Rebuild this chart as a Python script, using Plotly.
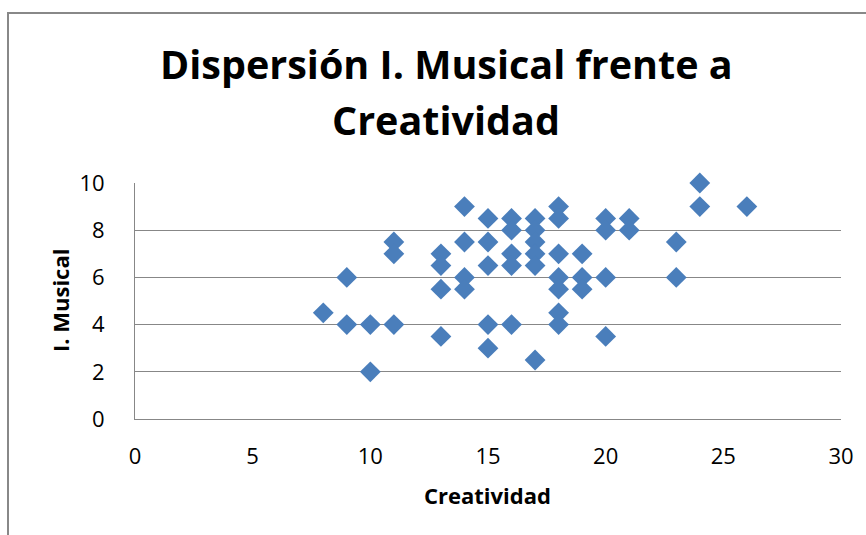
import plotly.graph_objects as go

creatividad = [8, 9, 9, 10, 10, 11, 11, 11,
               13, 13, 13, 13, 14, 14, 14, 14,
               15, 15, 15, 15, 15, 16, 16, 16, 16, 16,
               17, 17, 17, 17, 17, 17,
               18, 18, 18, 18, 18, 18, 18,
               19, 19, 19, 20, 20, 20, 20,
               21, 21, 23, 23, 24, 24, 26]
musical = [4.5, 6, 4, 4, 2, 7.5, 7, 4,
           7, 6.5, 5.5, 3.5, 9, 7.5, 6, 5.5,
           8.5, 7.5, 6.5, 4, 3, 8.5, 8, 7, 6.5, 4,
           8.5, 8, 7.5, 7, 6.5, 2.5,
           9, 8.5, 7, 6, 5.5, 4.5, 4,
           7, 6, 5.5, 8.5, 8, 6, 3.5,
           8.5, 8, 7.5, 6, 10, 9, 9]

x_ticks = [0, 5, 10, 15, 20, 25, 30]
y_ticks = [0, 2, 4, 6, 8, 10]

title_lines = ["Dispersión I. Musical frente a", "Creatividad"]
x_title = "Creatividad"
y_title = "I. Musical"

FONT = "Open Sans"
GRID = "#878787"

fig = go.Figure()
fig.add_trace(go.Scatter(
    x=creatividad, y=musical, mode="markers",
    marker=dict(symbol="diamond", size=16, color="#4A7EBB",
                line=dict(width=0)),
    cliponaxis=False,
    showlegend=False, hoverinfo="x+y",
))

W, H = 866, 535
L, R, T, B = 135, 25, 183, 116
ph = H - T - B
pw = W - L - R

def py(p):
    return (H - B - p) / ph

def px(p):
    return (p - L) / pw

fig.update_layout(
    width=W, height=H,
    margin=dict(l=L, r=R, t=T, b=B, autoexpand=False),
    paper_bgcolor="white", plot_bgcolor="white",
    font=dict(family=FONT, color="black", size=22),
    xaxis=dict(range=[0, 30], tickvals=x_ticks, ticktext=[str(v) for v in x_ticks],
               showgrid=False, zeroline=False, showline=True, linecolor=GRID,
               linewidth=1, ticks="", ticklabelstandoff=18, automargin=False,
               tickfont=dict(family=FONT, size=22)),
    yaxis=dict(range=[0, 10], tickvals=y_ticks, ticktext=[str(v) for v in y_ticks],
               showgrid=True, gridcolor=GRID, gridwidth=1,
               zeroline=False, showline=True, linecolor=GRID, linewidth=1,
               ticks="", ticklabelstandoff=25, automargin=False,
               tickfont=dict(family=FONT, size=22)),
    annotations=[
        dict(text="<b>%s</b>" % title_lines[0], xref="paper", yref="paper",
             x=px(446), y=py(64), xanchor="center", yanchor="middle",
             showarrow=False, font=dict(family=FONT, size=39.5, color="black")),
        dict(text="<b>%s</b>" % title_lines[1], xref="paper", yref="paper",
             x=px(446), y=py(120), xanchor="center", yanchor="middle",
             showarrow=False, font=dict(family=FONT, size=39.5, color="black")),
        dict(text="<b>%s</b>" % x_title, xref="paper", yref="paper",
             x=px(487), y=py(495), xanchor="center", yanchor="middle",
             showarrow=False, font=dict(family=FONT, size=22, color="black")),
        dict(text="<b>%s</b>" % y_title, xref="paper", yref="paper",
             x=px(60), y=py(301), xanchor="center", yanchor="middle",
             textangle=-90, showarrow=False,
             font=dict(family=FONT, size=22, color="black")),
    ],
    shapes=[
        dict(type="rect", xref="paper", yref="paper",
             x0=px(8), x1=px(900), y0=py(600), y1=py(13),
             line=dict(color="#888888", width=2), fillcolor="rgba(0,0,0,0)",
             layer="below"),
    ],
)

fig.write_html(
    "out.html",
    config={"displayModeBar": False},
    post_script="document.body.style.margin='0';document.body.style.overflow='hidden';",
)
